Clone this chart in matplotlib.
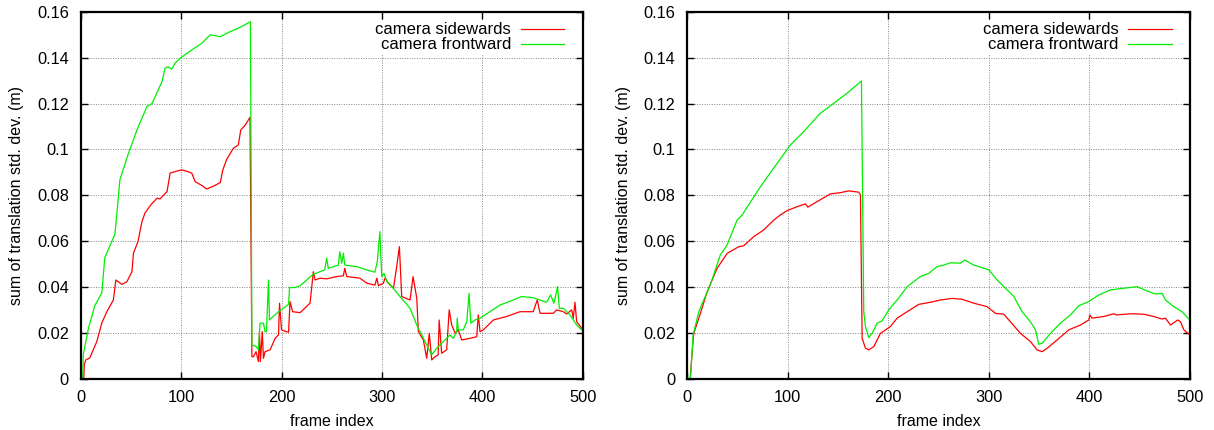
import matplotlib as mpl
import matplotlib.pyplot as plt

mpl.rc('font', family='Liberation Sans', size=11.5)

# left panel, camera sidewards (red)
left_side_x = [3, 3.5, 5, 9, 16, 21, 26, 32.5, 35, 41, 46, 51, 52.5, 57, 61, 64, 70, 76, 79, 86, 89,
               95, 100.6, 106, 110.6, 114, 120, 125.5, 132, 139, 141.5, 145.5, 152, 157, 159.4, 164, 168.6,
               170.5, 172, 174.6, 177, 178, 179, 180.8, 182, 183.6, 188.6, 193.6, 197, 198, 200, 205, 207,
               208.5, 211, 218.5, 228.4, 231.7, 233.4, 238.4, 245, 255, 261.6, 263, 265, 278, 285, 293,
               295, 296.5, 301.5, 303, 306.5, 311.5, 314.7, 317.4, 319.7, 328, 331, 334.7, 336.3, 341.3,
               344.6, 347.2, 349.6, 352.9, 356, 357, 359.5, 364.5, 367, 369.5, 373, 376, 379.5, 387.7,
               394.4, 396, 397.7, 401, 411, 424, 437.5, 450.7, 454.7, 457.5, 470.7, 474, 480.6, 484, 489,
               490.6, 492.3, 494, 499]
left_side_y = [0, 0.0062, 0.0084, 0.0093, 0.0164, 0.0245, 0.0294, 0.0345, 0.0432, 0.0413, 0.0425,
               0.0468, 0.0548, 0.0599, 0.0686, 0.0724, 0.0760, 0.0788, 0.0785, 0.0817, 0.0897, 0.0905,
               0.0911, 0.0905, 0.0897, 0.0860, 0.0845, 0.0828, 0.0840, 0.0856, 0.0911, 0.0958, 0.1005,
               0.1020, 0.1085, 0.1107, 0.1140, 0.0098, 0.0098, 0.0120, 0.0077, 0.0207, 0.0077, 0.0207,
               0.0091, 0.0120, 0.0128, 0.0178, 0.0193, 0.0331, 0.0215, 0.0207, 0.0205, 0.0338, 0.0294,
               0.0290, 0.0331, 0.0468, 0.0432, 0.0440, 0.0437, 0.0447, 0.0450, 0.0483, 0.0447, 0.0440,
               0.0418, 0.0410, 0.0440, 0.0407, 0.0418, 0.0440, 0.0418, 0.0396, 0.0490, 0.0577, 0.0360,
               0.0345, 0.0447, 0.0353, 0.0207, 0.0171, 0.0091, 0.0200, 0.0084, 0.0098, 0.0106, 0.0258,
               0.0113, 0.0128, 0.0302, 0.0236, 0.0200, 0.0215, 0.0171, 0.0178, 0.0185, 0.0280, 0.0207,
               0.0215, 0.0258, 0.0273, 0.0294, 0.0294, 0.0345, 0.0287, 0.0287, 0.0302, 0.0294, 0.0284,
               0.0302, 0.0266, 0.0335, 0.0250, 0.0222]

# left panel, camera frontward (green)
left_front_x = [2, 2.5, 7.6, 14, 21, 24, 34, 36, 39, 47, 56, 66, 71, 81, 84, 87, 90.6, 94, 99, 110.5,
                120.5, 129, 139, 149, 159, 169, 170.5, 175, 177, 178.6, 182, 183.6, 185, 187, 188, 197,
                207, 208, 213.5, 218.5, 231.7, 243, 245, 246.6, 256.6, 258, 260, 261.6, 263, 275, 285,
                293, 295.4, 298, 299.8, 302, 305, 310, 318, 328, 334.7, 339.6, 346.2, 349.6, 354.6,
                359.5, 364.5, 367.8, 371, 374.5, 375, 376, 381, 384.5, 386.8, 388.5, 392.7, 397.7, 407.6,
                417.6, 430.9, 439, 450.7, 464, 468, 471.3, 475, 476.7, 480.6, 487.3, 494, 499]
left_front_y = [0, 0.0106, 0.0220, 0.0320, 0.0376, 0.0530, 0.0630, 0.0720, 0.0868, 0.0976, 0.1085,
                0.1187, 0.1200, 0.1296, 0.1354, 0.1360, 0.1350, 0.1376, 0.1397, 0.1433, 0.1462, 0.1499,
                0.1491, 0.1513, 0.1532, 0.1556, 0.0149, 0.0142, 0.0128, 0.0244, 0.0244, 0.0207, 0.0207,
                0.0432, 0.0258, 0.0294, 0.0326, 0.0399, 0.0399, 0.0407, 0.0457, 0.0476, 0.0527, 0.0483,
                0.0497, 0.0555, 0.0505, 0.0548, 0.0497, 0.0490, 0.0476, 0.0466, 0.0512, 0.0643, 0.0447,
                0.0461, 0.0425, 0.0403, 0.0360, 0.0309, 0.0236, 0.0193, 0.0135, 0.0106, 0.0135, 0.0157,
                0.0178, 0.0193, 0.0178, 0.0207, 0.0266, 0.0215, 0.0215, 0.0250, 0.0374, 0.0244, 0.0258,
                0.0266, 0.0294, 0.0323, 0.0345, 0.0360, 0.0355, 0.0335, 0.0367, 0.0331, 0.0403, 0.0309,
                0.0309, 0.0280, 0.0236, 0.0215]

# right panel, camera sidewards (red)
right_side_x = [3, 5, 6.6, 13.2, 19.9, 29.8, 39.8, 51.4, 56.3, 66.3, 76.2, 86.2, 92.7, 99.4, 109.3,
                117.6, 120, 129.2, 142.5, 152.4, 160.7, 170.7, 172.3, 174, 177.3, 180.6, 185.6, 192.2,
                202, 208.8, 218.7, 230.3, 241.9, 251.8, 263.4, 273.4, 285, 298.2, 306.5, 314.8, 321.4,
                331.3, 341.3, 347.9, 352.9, 357.9, 367.8, 379.4, 391, 399.3, 400.3, 402.6, 414.2, 424.1,
                427, 440.7, 454, 464, 472.2, 475.5, 480.5, 487.8, 490.5, 493.8, 499.7]
right_side_y = [0, 0.0120, 0.0200, 0.0287, 0.0381, 0.0483, 0.0548, 0.0577, 0.0581, 0.0621, 0.0650,
                0.0693, 0.0715, 0.0734, 0.0751, 0.0763, 0.0749, 0.0773, 0.0807, 0.0812, 0.0820, 0.0814,
                0.0802, 0.0178, 0.0135, 0.0128, 0.0142, 0.0200, 0.0229, 0.0266, 0.0294, 0.0326, 0.0335,
                0.0345, 0.0352, 0.0348, 0.0331, 0.0316, 0.0287, 0.0283, 0.0250, 0.0200, 0.0164, 0.0128,
                0.0120, 0.0135, 0.0171, 0.0215, 0.0236, 0.0258, 0.0280, 0.0266, 0.0273, 0.0285, 0.0280,
                0.0285, 0.0283, 0.0273, 0.0262, 0.0266, 0.0236, 0.0258, 0.0250, 0.0215, 0.0193]

# right panel, camera frontward (green)
right_front_x = [3.3, 6, 11.6, 16.5, 23, 33, 39.7, 49.7, 54.7, 72.9, 89.5, 102.7, 116, 132.5, 145.8,
                 159, 173.3, 175.6, 177.3, 180.6, 183.9, 188.9, 193.8, 200.5, 208.8, 218.7, 231.9, 240.2,
                 248.5, 255.2, 261.8, 271.7, 275.7, 285, 295, 299.9, 308.2, 318.1, 324.8, 333, 341.3,
                 346.3, 349.6, 353, 361.2, 371.1, 381, 389.4, 399.3, 409.3, 420.8, 434, 447.3, 457.3,
                 465.6, 472.2, 475.5, 483.8, 492, 499.7]
right_front_y = [0, 0.0193, 0.0294, 0.0345, 0.0410, 0.0541, 0.0584, 0.0693, 0.0715, 0.0838, 0.0940,
                 0.1020, 0.1078, 0.1158, 0.1201, 0.1245, 0.1298, 0.0294, 0.0229, 0.0181, 0.0200, 0.0244,
                 0.0254, 0.0302, 0.0345, 0.0403, 0.0447, 0.0461, 0.0490, 0.0497, 0.0507, 0.0505, 0.0519,
                 0.0497, 0.0483, 0.0476, 0.0432, 0.0389, 0.0360, 0.0294, 0.0250, 0.0215, 0.0152, 0.0157,
                 0.0200, 0.0244, 0.0280, 0.0320, 0.0338, 0.0367, 0.0389, 0.0396, 0.0403, 0.0384, 0.0371,
                 0.0374, 0.0345, 0.0316, 0.0294, 0.0258]

labels = ['camera sidewards', 'camera frontward']
xticks = [0, 100, 200, 300, 400, 500]
yticks = [0, 0.02, 0.04, 0.06, 0.08, 0.1, 0.12, 0.14, 0.16]

fig = plt.figure(figsize=(12.14, 4.3), dpi=100)
ax1 = fig.add_axes([0.0665, 0.118, 0.4135, 0.855])
ax2 = fig.add_axes([0.566, 0.118, 0.4143, 0.855])

panels = [(ax1, left_side_x, left_side_y, left_front_x, left_front_y),
          (ax2, right_side_x, right_side_y, right_front_x, right_front_y)]

for ax, sx, sy, fx, fy in panels:
    ax.plot(sx, sy, color='#ff0000', lw=0.9, label=labels[0])
    ax.plot(fx, fy, color='#00ee00', lw=0.9, label=labels[1])
    ax.set(xlim=(0, 500), ylim=(0, 0.16), xticks=xticks, yticks=yticks)
    ax.set_xlabel('frame index', fontsize=11.5, labelpad=6)
    ax.set_ylabel('sum of translation std. dev. (m)', fontsize=11.5, labelpad=9)
    ax.set_yticklabels([f'{v:g}' for v in yticks])
    ax.grid(True, color='#888888', ls=(0, (1, 1.5)), lw=0.7)
    ax.tick_params(direction='in', top=True, right=True, length=5, width=1, labelsize=11.8)
    ax.tick_params(axis='x', pad=8)
    ax.tick_params(axis='y', pad=8.5)
    for sp in ax.spines.values():
        sp.set_linewidth(1.6)
    leg = ax.legend(loc='upper right', bbox_to_anchor=(0.985, 1.0), markerfirst=False,
                    handlelength=2.6, handletextpad=0.6, labelspacing=0.0, borderpad=0.15,
                    frameon=True, fancybox=False, fontsize=12)
    leg.get_frame().set_facecolor('white')
    leg.get_frame().set_edgecolor('none')
    leg.get_frame().set_alpha(1)
    for t in leg.get_texts():
        t.set_ha('right')

fig.savefig('out.png', dpi=100)
